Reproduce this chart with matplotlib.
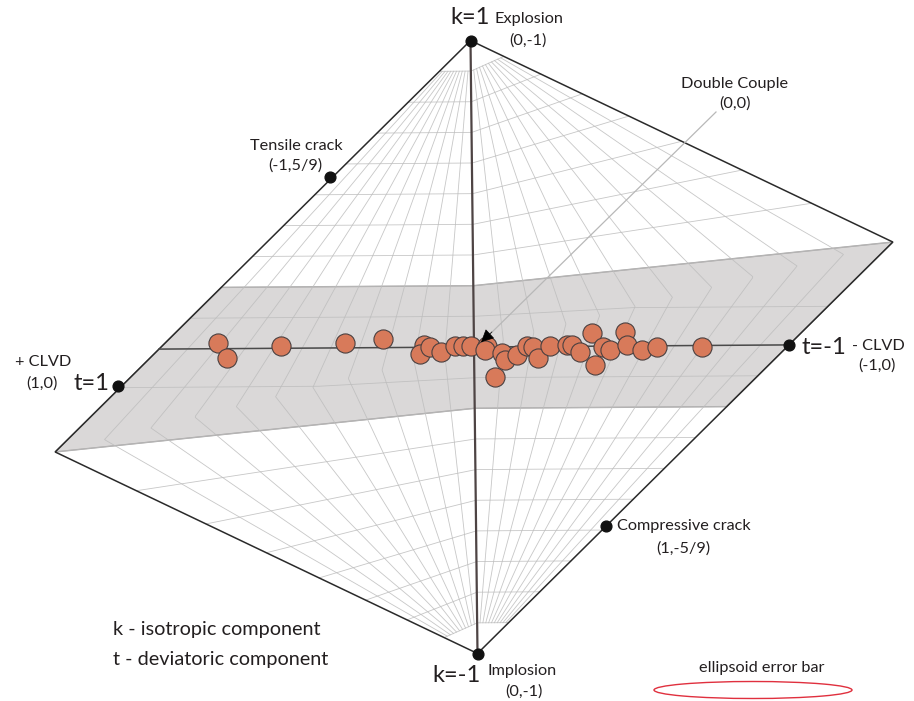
import numpy as np
import matplotlib.pyplot as plt
from matplotlib.transforms import Affine2D
from matplotlib.patches import Polygon, Ellipse, FancyArrowPatch

plt.rcParams['font.family'] = ['Lato', 'DejaVu Sans']

# Event source types in Hudson (u, v) coordinates
event_u = [-0.813, -0.784, -0.613, -0.410, -0.289, -0.159, -0.171, -0.140, -0.105,
           -0.060, -0.035, -0.010, 0.041, 0.036, 0.067, 0.089, 0.098, 0.137, 0.168,
           0.187, 0.203, 0.241, 0.295, 0.311, 0.337, 0.375, 0.410, 0.384, 0.432,
           0.479, 0.486, 0.533, 0.581, 0.724]
event_v = [0.019, -0.031, 0.007, 0.016, 0.028, 0.008, -0.022, 0.001, -0.016,
           0.003, 0.003, 0.003, 0.003, -0.010, -0.098, -0.020, -0.043, -0.027, 0.002,
           -0.001, -0.037, 0.002, 0.005, 0.004, -0.019, 0.043, -0.003, -0.061, -0.013,
           0.046, 0.003, -0.014, -0.004, -0.005]

# Reference source types marked on the diagram (u, v)
ref_u = [0.0, 0.0, -1.13, 1.0, -0.45, 0.413]
ref_v = [1.0, -1.0, -0.12, 0.0, 0.558, -0.587]

# Grid levels
k_levels = np.round(np.arange(-0.9, 0.91, 0.1), 2)
a_levels = np.linspace(-1, 1, 23)[1:-1]
band_k = 0.2


def hudson(a, k):
    a = np.atleast_1d(np.asarray(a, float))
    k = np.atleast_1d(np.asarray(k, float))
    a, k = np.broadcast_arrays(a, k)
    tau = a * (1 - np.abs(k))
    u = tau.copy()
    v = k.copy()
    same = tau * k > 0
    s = np.sign(k[same])
    t = tau[same] * s
    kk = k[same] * s
    d = np.where(t < 4 * kk, 1 - t / 2, 1 - 2 * kk)
    u[same] = s * t / d
    v[same] = s * kk / d
    return u, v


fig = plt.figure(figsize=(9.14, 7.01), dpi=100)
ax = fig.add_axes([0, 0, 1, 1])
ax.set_xlim(0, 914)
ax.set_ylim(701, 0)
ax.axis('off')

hud = Affine2D(np.array([[315.0, -3.5, 474.0],
                         [-2.1, -306.5, 347.0],
                         [0.0, 0.0, 1.0]])) + ax.transData

# shaded band |k| <= 0.2
s = np.linspace(-1, 1, 200)
kb = np.linspace(-band_k, band_k, 50)
bu = np.concatenate([hudson(s, -band_k)[0], hudson(1, kb)[0],
                     hudson(s[::-1], band_k)[0], hudson(-1, kb[::-1])[0]])
bv = np.concatenate([hudson(s, -band_k)[1], hudson(1, kb)[1],
                     hudson(s[::-1], band_k)[1], hudson(-1, kb[::-1])[1]])
ax.add_patch(Polygon(np.column_stack([bu, bv]), closed=True, facecolor='#dad8d8',
                     edgecolor='#a5a3a3', lw=1.0, transform=hud, zorder=1))

# grid
full = np.linspace(-1, 1, 801)
kspan = np.linspace(k_levels[0], k_levels[-1], 721)
gc = '#bdbdbd'
for kl in k_levels:
    u, v = hudson(full, kl)
    ax.plot(u, v, color=gc, lw=0.6, alpha=0.85, transform=hud, zorder=2)
for al in a_levels:
    u, v = hudson(al, kspan)
    ax.plot(u, v, color=gc, lw=0.6, alpha=0.85, transform=hud, zorder=2)

# outline
diam = np.array([[0, 1], [4 / 3, 1 / 3], [0, -1], [-4 / 3, -1 / 3]])
ax.add_patch(Polygon(diam, closed=True, fill=False, edgecolor='#2a2a2a', lw=1.1,
                     transform=hud, zorder=3))

# axes
ax.plot([0, 0], [1, -1], color='#4e4444', lw=1.6, transform=hud, zorder=3)
ax.plot([-1, 1], [0, 0], color='#4a4a4a', lw=1.1, transform=hud, zorder=3)

# double couple leader
ax.plot([716, 485], [112, 339], color='#b8b8b8', lw=0.9, zorder=4)
ax.add_patch(FancyArrowPatch((494, 330), (479, 344), arrowstyle='-|>',
                             mutation_scale=20, color='black', lw=0.5, zorder=6))

# events
ax.scatter(event_u, event_v, s=190, facecolor='#d87a5a', edgecolor='#4a4040',
           lw=0.8, transform=hud, zorder=5)

# reference points
ax.scatter(ref_u, ref_v, s=60, color='#111111', transform=hud, zorder=6)

tc = '#231f20'
big = 17
small = 11.7
ax.text(470, 18, 'k=1', fontsize=big, ha='center', va='center', color=tc)
ax.text(495, 19, 'Explosion', fontsize=small, ha='left', va='center', color=tc)
ax.text(528, 41, '(0,-1)', fontsize=small, ha='center', va='center', color=tc)

ax.text(735, 84, 'Double Couple', fontsize=small, ha='center', va='center', color=tc)
ax.text(735, 104, '(0,0)', fontsize=small, ha='center', va='center', color=tc)

ax.text(296, 146, 'Tensile crack', fontsize=small, ha='center', va='center', color=tc)
ax.text(295, 166, '(-1,5/9)', fontsize=small, ha='center', va='center', color=tc)

ax.text(43, 362, '+ CLVD', fontsize=small, ha='center', va='center', color=tc)
ax.text(42, 384, '(1,0)', fontsize=small, ha='center', va='center', color=tc)
ax.text(91, 383, 't=1', fontsize=big, ha='center', va='center', color=tc)

ax.text(824, 348, 't=-1', fontsize=big, ha='center', va='center', color=tc)
ax.text(878, 346, '- CLVD', fontsize=small, ha='center', va='center', color=tc)
ax.text(877, 366, '(-1,0)', fontsize=small, ha='center', va='center', color=tc)

ax.text(617, 526, 'Compressive crack', fontsize=small, ha='left', va='center', color=tc)
ax.text(683, 549, '(1,-5/9)', fontsize=small, ha='center', va='center', color=tc)

ax.text(456, 675, 'k=-1', fontsize=big, ha='center', va='center', color=tc)
ax.text(522, 671, 'Implosion', fontsize=small, ha='center', va='center', color=tc)
ax.text(524, 692, '(0,-1)', fontsize=small, ha='center', va='center', color=tc)

ax.text(113, 630, 'k - isotropic component', fontsize=14.3, ha='left', va='center', color=tc)
ax.text(113, 659, 't - deviatoric component', fontsize=14.3, ha='left', va='center', color=tc)

ax.text(762, 668, 'ellipsoid error bar', fontsize=small, ha='center', va='center', color=tc)
ax.add_patch(Ellipse((753, 690), 198, 17, fill=False, edgecolor='#e0303e', lw=1.0))

fig.savefig('out.png', dpi=100)
